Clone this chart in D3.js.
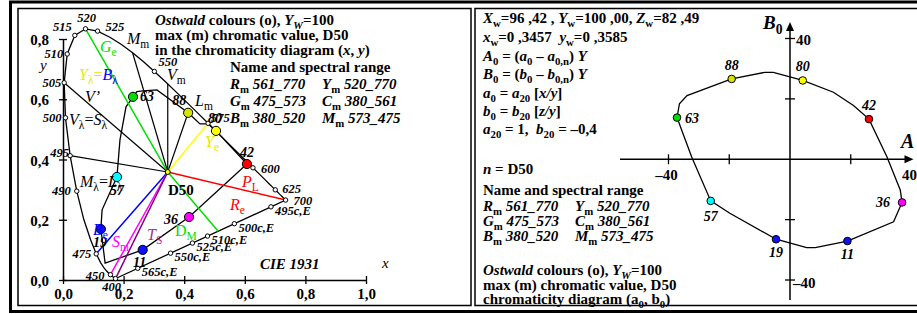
<!DOCTYPE html>
<html><head><meta charset="utf-8">
<script src="https://cdn.jsdelivr.net/npm/d3@7"></script>
<style>body{margin:0;background:#fff}svg{display:block}text{font-family:"Liberation Serif","Times New Roman",serif;white-space:pre}</style>
</head><body><svg id="c" width="917" height="314"></svg>
<script>
// ---------------- DATA ----------------
// CIE 1931 spectral locus (nm, x, y)
const locusNm=[380,385,390,395,400,405,410,415,420,425,430,435,440,445,450,455,460,465,470,475,480,485,490,495,500,505,510,515,520,525,530,535,540,545,550,555,560,565,570,575,580,585,590,595,600,605,610,615,620,625,630,635,640,645,650,655,660,665,670,680,690,700];
const locusX=[0.1741,0.1740,0.1738,0.1736,0.1733,0.1730,0.1726,0.1721,0.1714,0.1703,0.1689,0.1669,0.1644,0.1611,0.1566,0.1510,0.1440,0.1355,0.1241,0.1096,0.0913,0.0687,0.0454,0.0235,0.0082,0.0039,0.0139,0.0389,0.0743,0.1142,0.1547,0.1929,0.2296,0.2658,0.3016,0.3373,0.3731,0.4087,0.4441,0.4788,0.5125,0.5448,0.5752,0.6029,0.6270,0.6482,0.6658,0.6801,0.6915,0.7006,0.7079,0.7140,0.7190,0.7230,0.7260,0.7283,0.7300,0.7311,0.7320,0.7334,0.7344,0.7347];
const locusY=[0.0050,0.0050,0.0049,0.0049,0.0048,0.0048,0.0048,0.0048,0.0051,0.0058,0.0069,0.0086,0.0109,0.0138,0.0177,0.0227,0.0297,0.0399,0.0578,0.0868,0.1327,0.2007,0.2950,0.4127,0.5384,0.6548,0.7502,0.8120,0.8338,0.8262,0.8059,0.7816,0.7543,0.7243,0.6923,0.6589,0.6245,0.5896,0.5547,0.5202,0.4866,0.4544,0.4242,0.3965,0.3725,0.3514,0.3340,0.3197,0.3083,0.2993,0.2920,0.2859,0.2809,0.2770,0.2740,0.2717,0.2700,0.2689,0.2680,0.2666,0.2656,0.2653];
const markedNm=[400,450,475,490,495,500,505,510,515,520,525,550,575,600,625,700];
const complNm=[565,550,525,510,500,495];           // complementary wavelengths (c,E) on purple line
const whiteD50=[0.3457,0.3585];
const whiteE=[1/3,1/3];
const xTicks=[0,0.2,0.4,0.6,0.8,1.0];
const xTickLabels=["0,0","0,2","0,4","0,6","0,8","1,0"];
const yTicks=[0,0.2,0.4,0.6,0.8];
const yTickLabels=["0,0","0,2","0,4","0,6","0,8"];

// Ostwald max chromatic colours
const ostNames=["63","88","80","42","36","11","19","57"];
const ostColors=["#00dd00","#d4e600","#ffff00","#ff0000","#ff00ff","#1010ff","#1010ff","#00ffff"];
const ostx=[0.231,0.413,0.505,0.607,0.416,0.263,0.125,0.178];
const osty=[0.608,0.555,0.495,0.385,0.209,0.100,0.169,0.342];
// boundary polyline in (x,y)
const bndx=[0.231,0.244,0.264,0.310,0.413,0.452,0.479,0.505,0.607,0.416,0.263,0.139,0.125,0.129,0.178,0.188,0.208,0.231];
const bndy=[0.608,0.625,0.628,0.631,0.555,0.518,0.518,0.495,0.385,0.209,0.100,0.056,0.169,0.233,0.342,0.465,0.575,0.608];
// (A0,B0)
const ostA=[-37.2,-19.2,4.2,26.0,36.9,18.9,-4.6,-26.1];
const ostB=[13.8,26.6,26.1,13.3,-14.3,-27.1,-26.5,-13.8];
const bndA=[-37.2,-36.4,-33.9,-19.2,-8.3,-5.5,4.2,14.3,20.9,26.0,31.9,36.3,36.9,34.1,18.9,8.3,5.5,-4.6,-19.8,-26.1,-32.4,-37.2];
const bndB=[13.8,18.4,21.1,26.6,28.8,28.8,26.1,22.2,17.8,13.3,0.8,-10.2,-14.3,-20.7,-27.1,-29.3,-29.3,-26.5,-17.9,-13.8,0.8,13.8];
const abTicks=[-40,-20,20,40];

const rangeNames=["R","Y","G","C","B","M"];
const rangeVals=["561_770","520_770","475_573","380_561","380_520","573_475"];

// ---------------- HELPERS ----------------
const FS=15;
const svg=d3.select("#c");
const xS=d3.scaleLinear().domain([0,1]).range([63,366]);
const yS=d3.scaleLinear().domain([0,0.8]).range([280,39]);
const aS=d3.scaleLinear().domain([-40,40]).range([668.5,911.5]);
const bS=d3.scaleLinear().domain([-40,40]).range([280,38.5]);
const loc=nm=>{const i=locusNm.indexOf(nm);return [locusX[i],locusY[i]];};
const P=p=>[xS(p[0]),yS(p[1])];
function purpleHit(nm,w){ // line from locus(nm) through white w to the purple line
  const s=loc(nm),a=loc(400),b=loc(700);
  const d=[w[0]-s[0],w[1]-s[1]], e=[b[0]-a[0],b[1]-a[1]];
  const den=d[0]*e[1]-d[1]*e[0];
  const t=((a[0]-w[0])*e[1]-(a[1]-w[1])*e[0])/den;
  return [w[0]+t*d[0],w[1]+t*d[1]];
}
function rich(g,x,y,parts,size,opt={}){
  const t=g.append("text").attr("x",x).attr("y",y).attr("font-size",size)
    .attr("font-weight",opt.weight||"bold").attr("text-anchor",opt.anchor||"start");
  if(opt.fill)t.attr("fill",opt.fill);
  let shift=0;
  parts.forEach(p=>{
    const f=p[1]||"";
    const ts=t.append("tspan").text(p[0]);
    const target=f.includes("s")?size*0.28:0;
    if(target!==shift){ts.attr("dy",target-shift);shift=target;}
    if(f.includes("s"))ts.attr("font-size",size*0.72);
    if(f.includes("i"))ts.attr("font-style","italic");
    if(f.includes("n"))ts.attr("font-weight","normal");
    if(p[2])ts.attr("fill",p[2]);
  });
  return t;
}
const line=d3.line();
const SP="\u00a0";

// ---------------- FRAME ----------------
svg.append("rect").attr("x",10.5).attr("y",2).attr("width",930).attr("height",309.5).attr("fill","none").attr("stroke","#000").attr("stroke-width",3);
svg.append("rect").attr("x",18).attr("y",8.5).attr("width",453).attr("height",297).attr("fill","none").attr("stroke","#000").attr("stroke-width",1.5);
svg.append("rect").attr("x",475).attr("y",8.5).attr("width",460).attr("height",297).attr("fill","none").attr("stroke","#000").attr("stroke-width",1.5);

// ---------------- LEFT CHART ----------------
const L=svg.append("g");
const axX=d3.axisBottom(xS).tickValues(xTicks).tickFormat((d,i)=>xTickLabels[i]).tickSizeInner(4).tickSizeOuter(0).tickPadding(4);
const gx=L.append("g").attr("transform",`translate(0,${yS(0)})`).call(axX);
gx.selectAll(".tick line").attr("y1",-4).attr("y2",4).attr("stroke-width",1.3);
gx.select(".domain").attr("stroke-width",1.5);
gx.selectAll("text").attr("font-size",FS).attr("font-weight","bold").attr("font-family","Liberation Serif");
const axY=d3.axisLeft(yS).tickValues(yTicks).tickFormat((d,i)=>yTickLabels[i]).tickSizeInner(4).tickSizeOuter(0).tickPadding(10);
const gy=L.append("g").attr("transform",`translate(${xS(0)},0)`).call(axY);
gy.selectAll(".tick line").attr("x1",-4).attr("x2",4).attr("stroke-width",1.3);
gy.select(".domain").attr("stroke-width",1.5);
gy.selectAll("text").attr("font-size",FS).attr("font-weight","bold").attr("font-family","Liberation Serif").attr("dy","0.38em");

const locPts=locusNm.map((n,i)=>P([locusX[i],locusY[i]]));
L.append("path").attr("d",line(locPts.concat([locPts[0]]))).attr("fill","none").attr("stroke","#000").attr("stroke-width",1.3);

const wP=P(whiteD50);
const blackEnds=[P(loc(495)),P(loc(505)),P(loc(540)),[xS(whiteD50[0]),yS(0.6508)],P([ostx[1],osty[1]])];
blackEnds.forEach(e=>L.append("path").attr("d",line([e,wP])).attr("stroke","#000").attr("stroke-width",1.2).attr("fill","none"));
L.append("path").attr("d",line(bndx.map((x,i)=>P([x,bndy[i]])))).attr("fill","none").attr("stroke","#000").attr("stroke-width",1.3);

const colLines=[
  [P(loc(520)),wP,"#00e000"],
  [wP,P(purpleHit(510,whiteD50)),"#00e000"],
  [wP,P(loc(575)),"#ffff00"],
  [wP,P(loc(700)),"#ff0000"],
  [wP,P(loc(475)),"#0000ff"],
  [wP,P(loc(450)),"#ff00ff"],
  [wP,P(loc(400)),"#800080"]
];
colLines.forEach(c=>L.append("path").attr("d",line([c[0],c[1]])).attr("stroke",c[2]).attr("stroke-width",1.5).attr("fill","none"));

L.append("circle").attr("cx",wP[0]).attr("cy",wP[1]).attr("r",2.5).attr("fill","#ffff00").attr("stroke","#000").attr("stroke-width",1);

const nmLab={400:[-4,12,"middle"],450:[-6,5,"end"],475:[-5,4,"end"],490:[-6,4,"end"],495:[-1,1,"end"],500:[-4,4,"end"],505:[-3,4,"end"],510:[-4,4,"end"],515:[-3,-4,"end"],520:[1,-7,"middle"],525:[8,0,"start"],550:[4,-5,"start"],575:[3,-1,"start"],600:[8,5,"start"],625:[7,3,"start"],700:[8,5,"start"]};
markedNm.forEach(n=>{
  const p=P(loc(n));
  L.append("circle").attr("cx",p[0]).attr("cy",p[1]).attr("r",2.2).attr("fill","#fff").attr("stroke","#000").attr("stroke-width",1);
  const o=nmLab[n];
  L.append("text").attr("x",p[0]+o[0]).attr("y",p[1]+o[1]).attr("text-anchor",o[2]).attr("font-size",12.5).attr("font-weight","bold").attr("font-style","italic").text(n);
});
complNm.forEach(n=>{
  const p=P(purpleHit(n,whiteE));
  L.append("circle").attr("cx",p[0]).attr("cy",p[1]).attr("r",2.2).attr("fill","#fff").attr("stroke","#000").attr("stroke-width",1);
  L.append("text").attr("x",p[0]+4).attr("y",p[1]+8).attr("font-size",12.5).attr("font-weight","bold").attr("font-style","italic").text(n+"c,E");
});

const ostLabL={"63":[7,4,"start"],"88":[-2,-8,"end"],"80":[-8,-8,"start"],"42":[-7,-7,"start"],"36":[-11,7,"end"],"11":[-3,17,"middle"],"19":[-1,18,"middle"],"57":[0,18,"middle"]};
ostNames.forEach((n,i)=>{
  const p=P([ostx[i],osty[i]]);
  L.append("circle").attr("cx",p[0]).attr("cy",p[1]).attr("r",4.6).attr("fill",ostColors[i]).attr("stroke","#000").attr("stroke-width",1);
  const o=ostLabL[n];
  L.append("text").attr("x",p[0]+o[0]).attr("y",p[1]+o[1]).attr("text-anchor",o[2]).attr("font-size",14).attr("font-weight","bold").attr("font-style","italic").text(n);
});

const nw={weight:"normal"};
rich(L,100,52,[["G","i"],["e","s"]],16,{weight:"normal",fill:"#00e000"});
rich(L,127,44,[["M","i"],["m","s"]],16,nw);
rich(L,167,80,[["V","i"],["m","s"]],16,nw);
rich(L,79,80,[["Y","i","#e8e800"],["λ","s","#e8e800"],["=","","#e8e800"],["B","i","#0000ff"],["λ","s","#0000ff"]],16,nw);
rich(L,85,102,[["V’","i"]],16,nw);
rich(L,69,125,[["V","i"],["λ","s"],["="],["S","i"],["λ","s"]],16,nw);
rich(L,195,106,[["L","i"],["m","s"]],16,nw);
rich(L,205,147,[["Y","i"],["e","s"]],16,{weight:"normal",fill:"#e8e800"});
rich(L,242,187,[["P","i"],["L","s"]],16,{weight:"normal",fill:"#ff0000"});
rich(L,230,210,[["R","i"],["e","s"]],16,{weight:"normal",fill:"#ff0000"});
rich(L,175,236,[["D"],["M","s"]],16,{weight:"normal",fill:"#00e000"});
rich(L,147,240,[["T","i"],["S","s"]],16,{weight:"normal",fill:"#993399"});
rich(L,112,247,[["S","i"],["m","s"]],16,{weight:"normal",fill:"#ff00ff"});
rich(L,93,235,[["B","i"],["e","s"]],16,{weight:"normal",fill:"#0000ff"});
rich(L,80,187,[["M","i"],["λ","s"],["="],["L","i"],["λ","s"]],16,nw);
L.append("text").attr("x",168).attr("y",195).attr("font-size",FS).attr("font-weight","bold").text("D50");
L.append("text").attr("x",40).attr("y",70).attr("font-size",15).attr("font-style","italic").text("y");
L.append("text").attr("x",382).attr("y",268).attr("font-size",15).attr("font-style","italic").text("x");
L.append("text").attr("x",260).attr("y",269).attr("font-size",FS).attr("font-weight","bold").attr("font-style","italic").text("CIE 1931");

rich(L,155,25,[["Ostwald","i"],[" colours (o), "],["Y","i"],["W","is"],["=100"]],FS);
rich(L,155,40,[["max (m) chromatic value, D50"]],FS);
rich(L,155,55,[["in the chromaticity diagram ("],["x","i"],[", "],["y","i"],[")"]],FS);
rich(L,230,72,[["Name and spectral range"]],FS);
[0,1,2].forEach(r=>{
  [0,1].forEach(c=>{
    const k=r*2+c;
    rich(L,c?322:230,89+r*17,[[rangeNames[k],"i"],["m","s"],[" "+rangeVals[k],"i"]],FS);
  });
});

// ---------------- RIGHT CHART ----------------
const R=svg.append("g");
const tx=483;
const rRows=[23,42,61,79,98,116,134];
rich(R,tx,rRows[0],[["X","i"],["w","s"],["=96 ,42 , "],["Y","i"],["w","s"],["=100 ,00, "],["Z","i"],["w","s"],["=82 ,49"]],FS);
rich(R,tx,rRows[1],[["x","i"],["w","s"],["=0 ,3457"+SP+SP],["y","i"],["w","s"],["=0 ,3585"]],FS);
rich(R,tx,rRows[2],[["A","i"],["0","s"],[" = ("],["a","i"],["0","s"],[" – "],["a","i"],["0,n","s"],[") "],["Y","i"]],FS);
rich(R,tx,rRows[3],[["B","i"],["0","s"],[" = ("],["b","i"],["0","s"],[" – "],["b","i"],["0,n","s"],[") "],["Y","i"]],FS);
rich(R,tx,rRows[4],[["a","i"],["0","s"],[" = "],["a","i"],["20","s"],[" ["],["x/y","i"],["]"]],FS);
rich(R,tx,rRows[5],[["b","i"],["0","s"],[" = "],["b","i"],["20","s"],[" ["],["z/y","i"],["]"]],FS);
rich(R,tx,rRows[6],[["a","i"],["20","s"],[" = 1,"+SP+SP],["b","i"],["20","s"],[" = –0,4"]],FS);
rich(R,tx,174,[["n","i"],[" = D50"]],FS);
rich(R,tx,195,[["Name and spectral range"]],FS);
[0,1,2].forEach(r=>{
  [0,1].forEach(c=>{
    const k=r*2+c;
    rich(R,c?575:tx,211+r*15,[[rangeNames[k],"i"],["m","s"],[" "+rangeVals[k],"i"]],FS);
  });
});
rich(R,tx,275,[["Ostwald","i"],[" colours (o), "],["Y","i"],["W","is"],["=100"]],FS);
rich(R,tx,290,[["max (m) chromatic value, D50"]],FS);
rich(R,tx,304,[["chromaticity diagram (a"],["0","s"],[", b"],["0","s"],[")"]],FS);

const a0=aS(0),b0=bS(0);
R.append("line").attr("x1",620).attr("x2",aS(40)-2).attr("y1",b0).attr("y2",b0).attr("stroke","#000").attr("stroke-width",1.5);
R.append("line").attr("x1",a0).attr("x2",a0).attr("y1",300).attr("y2",27).attr("stroke","#000").attr("stroke-width",1.5);
R.append("path").attr("d",`M${aS(40)+2},${b0} l-9,-4 l0,8 z`).attr("fill","#000");
R.append("path").attr("d",`M${a0},${22} l-4,9 l8,0 z`).attr("fill","#000");
abTicks.forEach(t=>{
  if(t!==40)R.append("line").attr("x1",aS(t)).attr("x2",aS(t)).attr("y1",b0-5).attr("y2",b0+5).attr("stroke","#000").attr("stroke-width",1.3);
  R.append("line").attr("x1",a0-5).attr("x2",a0+5).attr("y1",bS(t)).attr("y2",bS(t)).attr("stroke","#000").attr("stroke-width",1.3);
});
R.append("text").attr("x",aS(-40)-2).attr("y",b0+21).attr("text-anchor","middle").attr("font-size",FS).attr("font-weight","bold").text("–40");
R.append("text").attr("x",aS(40)-2).attr("y",b0+21).attr("text-anchor","middle").attr("font-size",FS).attr("font-weight","bold").text("40");
R.append("text").attr("x",a0+6).attr("y",bS(40)+6).attr("font-size",FS).attr("font-weight","bold").text("40");
R.append("text").attr("x",a0+3).attr("y",bS(-40)+8).attr("font-size",FS).attr("font-weight","bold").text("–40");
R.append("text").attr("x",901).attr("y",148).attr("font-size",20).attr("font-weight","bold").attr("font-style","italic").text("A");
rich(R,763,29,[["B","i"],["0","s"]],19);

R.append("path").attr("d",line(bndA.map((a,i)=>[aS(a),bS(bndB[i])]))).attr("fill","none").attr("stroke","#000").attr("stroke-width",1.3);
const ostLabR={"63":[8,5,"start"],"88":[0,-9,"middle"],"80":[0,-9,"middle"],"42":[0,-9,"middle"],"36":[-12,5,"end"],"11":[0,18,"middle"],"19":[0,18,"middle"],"57":[0,20,"middle"]};
ostNames.forEach((n,i)=>{
  const x=aS(ostA[i]),y=bS(ostB[i]);
  R.append("circle").attr("cx",x).attr("cy",y).attr("r",3.8).attr("fill",ostColors[i]).attr("stroke","#000").attr("stroke-width",1);
  const o=ostLabR[n];
  R.append("text").attr("x",x+o[0]).attr("y",y+o[1]).attr("text-anchor",o[2]).attr("font-size",14).attr("font-weight","bold").attr("font-style","italic").text(n);
});
</script></body></html>
